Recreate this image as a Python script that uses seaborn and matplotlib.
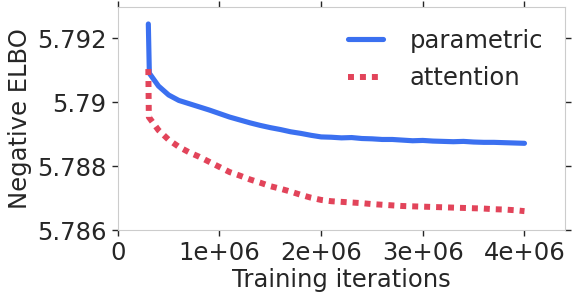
import matplotlib
matplotlib.use("Agg")
import matplotlib.pyplot as plt
from matplotlib.ticker import FuncFormatter, FixedLocator
import seaborn as sns
import pandas as pd

# Training iterations (x) and negative ELBO values
param_iters = [0.30e6, 0.31e6, 0.40e6, 0.50e6, 0.60e6, 0.70e6, 0.80e6, 0.90e6, 1.00e6,
               1.10e6, 1.20e6, 1.30e6, 1.40e6, 1.50e6, 1.60e6, 1.70e6, 1.80e6, 1.90e6,
               2.00e6, 2.10e6, 2.20e6, 2.30e6, 2.40e6, 2.50e6, 2.60e6, 2.70e6, 2.80e6,
               2.90e6, 3.00e6, 3.10e6, 3.20e6, 3.30e6, 3.40e6, 3.50e6, 3.60e6, 3.70e6,
               3.80e6, 3.90e6, 4.00e6]
param_elbo = [5.79244, 5.79090, 5.79050, 5.79022, 5.79005, 5.78995, 5.78985, 5.78975, 5.78964,
              5.78953, 5.78944, 5.78935, 5.78927, 5.78920, 5.78914, 5.78907, 5.78902, 5.78896,
              5.78891, 5.78890, 5.78888, 5.78889, 5.78886, 5.78885, 5.78883, 5.78883, 5.78881,
              5.78879, 5.78880, 5.78878, 5.78877, 5.78876, 5.78877, 5.78875, 5.78874, 5.78874,
              5.78873, 5.78872, 5.78871]

attn_iters = [0.300e6, 0.305e6, 0.40e6, 0.50e6, 0.60e6, 0.70e6, 0.80e6, 0.90e6, 1.00e6,
              1.10e6, 1.20e6, 1.30e6, 1.40e6, 1.50e6, 1.60e6, 1.70e6, 1.80e6, 1.90e6,
              2.00e6, 2.10e6, 2.20e6, 2.30e6, 2.40e6, 2.50e6, 2.60e6, 2.70e6, 2.80e6,
              2.90e6, 3.00e6, 3.10e6, 3.20e6, 3.30e6, 3.40e6, 3.50e6, 3.60e6, 3.70e6,
              3.80e6, 3.90e6, 4.00e6]
attn_elbo = [5.79103, 5.78953, 5.78912, 5.78882, 5.78860, 5.78843, 5.78829, 5.78813, 5.78797,
             5.78781, 5.78770, 5.78758, 5.78748, 5.78737, 5.78729, 5.78720, 5.78710, 5.78701,
             5.78694, 5.78690, 5.78688, 5.78686, 5.78684, 5.78681, 5.78679, 5.78677, 5.78675,
             5.78674, 5.78673, 5.78672, 5.78671, 5.78670, 5.78669, 5.78668, 5.78667, 5.78665,
             5.78664, 5.78662, 5.78659]

y_ticks = [5.786, 5.788, 5.79, 5.792]
x_ticks = [0, 1e6, 2e6, 3e6, 4e6]

sns.set_style("white", {
    "axes.edgecolor": ".8",
    "xtick.bottom": True, "xtick.top": True,
    "ytick.left": True, "ytick.right": True,
    "xtick.direction": "out", "ytick.direction": "out",
})
plt.rcParams["font.family"] = ["DejaVu Sans"]

df_p = pd.DataFrame({"iter": param_iters, "elbo": param_elbo})
df_a = pd.DataFrame({"iter": attn_iters, "elbo": attn_elbo})

fig = plt.figure(figsize=(5.72, 3.0), dpi=100)
ax = fig.add_axes([0.206, 0.2333, 0.782, 0.7433])

sns.lineplot(data=df_p, x="iter", y="elbo", ax=ax, color="#3B70F0", lw=3.7,
             label="parametric", solid_capstyle="round")
sns.lineplot(data=df_a, x="iter", y="elbo", ax=ax, color="#E2445A", lw=4.3,
             linestyle=(0, (1, 1)), label="attention")

ax.set_xlim(0, 4.4e6)
ax.set_ylim(5.786, 5.79297)
ax.xaxis.set_major_locator(FixedLocator(x_ticks))
ax.yaxis.set_major_locator(FixedLocator(y_ticks))
fmt = FuncFormatter(lambda v, p: "%g" % v)
ax.xaxis.set_major_formatter(fmt)
ax.yaxis.set_major_formatter(fmt)
ax.tick_params(axis="both", which="major", labelsize=17.5, length=4.5, width=1,
               color=".15", labelcolor=".15", top=True, right=True,
               labeltop=False, labelright=False)
ax.set_xlabel("Training iterations", fontsize=17.5, color=".15", labelpad=2)
ax.set_ylabel("Negative ELBO", fontsize=17.5, color=".15")
ax.legend(loc="upper right", frameon=False, fontsize=17.5, handlelength=1.45,
          handletextpad=1.1, labelspacing=0.55)

fig.savefig("out.png", dpi=100)
